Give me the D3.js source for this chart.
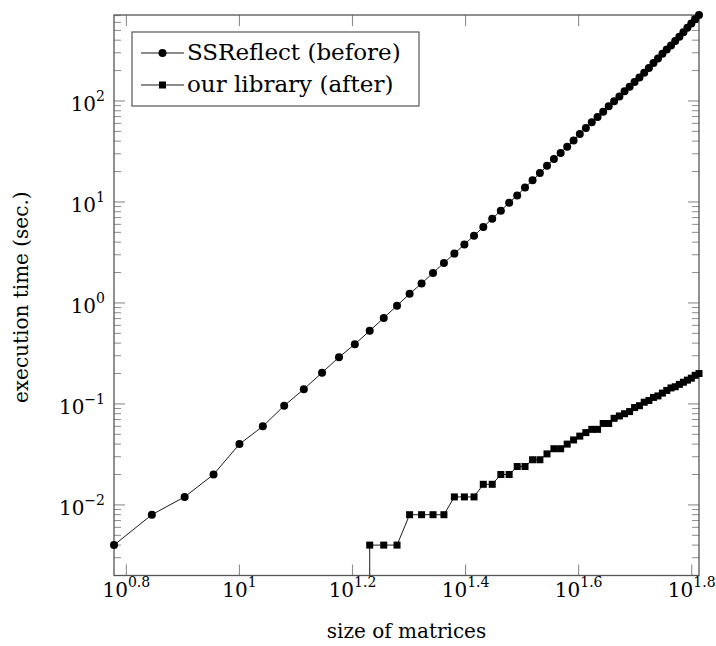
<!DOCTYPE html>
<html><head><meta charset="utf-8">
<script src="https://cdn.jsdelivr.net/npm/d3@7/dist/d3.min.js"></script>
<style>
html,body{margin:0;padding:0;background:#fff;}
svg{display:block;}
text{font-family:"DejaVu Serif","Liberation Serif",serif;fill:#000;}
</style></head>
<body>
<svg id="chart" width="716" height="646"></svg>
<script>
// ---- data ----
const ssrX = [6,7,8,9,10,11,12,13,14,15,16,17,18,19,20,21,22,23,24,25,26,27,28,29,30,31,32,33,34,35,36,37,38,39,40,41,42,43,44,45,46,47,48,49,50,51,52,53,54,55,56,57,58,59,60,61,62,63,64,65];
const ssrY = [0.004,0.008,0.012,0.020,0.040,0.060,0.096,0.14,0.204,0.29,0.39,0.53,0.71,0.94,1.23,1.56,1.98,2.49,3.08,3.80,4.64,5.65,6.82,8.2,9.84,11.6,13.9,16.4,19.3,22.8,26.7,30.6,35.3,40.5,47.1,54.0,61.4,69.5,78.4,88.4,99.1,111,124.5,138.6,154,171,190.6,212,238,264,294,324,355,392,432,478,530,585,645,710];
const libX = [17,18,19,20,21,22,23,24,25,26,27,28,29,30,31,32,33,34,35,36,37,38,39,40,41,42,43,44,45,46,47,48,49,50,51,52,53,54,55,56,57,58,59,60,61,62,63,64,65];
const libY = [0.004,0.004,0.004,0.008,0.008,0.008,0.008,0.012,0.012,0.012,0.016,0.016,0.020,0.020,0.024,0.024,0.028,0.028,0.032,0.036,0.036,0.040,0.044,0.048,0.052,0.056,0.056,0.064,0.064,0.072,0.076,0.080,0.084,0.092,0.096,0.104,0.108,0.116,0.120,0.128,0.136,0.144,0.148,0.156,0.164,0.172,0.180,0.192,0.200];
const seriesNames = ["SSReflect (before)", "our library (after)"];
const xTickExps = [0.8, 1, 1.2, 1.4, 1.6, 1.8];
const yTickExps = [-2, -1, 0, 1, 2];
const xTitle = "size of matrices";
const yTitle = "execution time (sec.)";

// ---- layout ----
const L = 114, R = 699, T = 15, B = 575.5;
const svg = d3.select("#chart");
const x = d3.scaleLog().domain([6, 65]).range([L, R]);
const y = d3.scaleLog().domain([0.002, 710]).range([B, T]);

const tickCol = "#8c8c8c", frameCol = "#555";
const g = svg.append("g");

// minor y ticks
const minor = [];
for (let e = -3; e <= 2; e++) for (let k = 2; k <= 9; k++) {
  const v = k * Math.pow(10, e);
  if (v >= y.domain()[0] && v <= y.domain()[1]) minor.push(v);
}
g.selectAll("line.minL").data(minor).join("line")
  .attr("x1", L).attr("x2", L + 7).attr("y1", d => y(d)).attr("y2", d => y(d))
  .attr("stroke", tickCol).attr("stroke-width", 1);
g.selectAll("line.minR").data(minor).join("line")
  .attr("x1", R).attr("x2", R - 7).attr("y1", d => y(d)).attr("y2", d => y(d))
  .attr("stroke", tickCol).attr("stroke-width", 1);
// major y ticks
const yMaj = yTickExps.map(e => Math.pow(10, e));
g.selectAll("line.majL").data(yMaj).join("line")
  .attr("x1", L).attr("x2", L + 11).attr("y1", d => y(d)).attr("y2", d => y(d))
  .attr("stroke", tickCol).attr("stroke-width", 1.1);
g.selectAll("line.majR").data(yMaj).join("line")
  .attr("x1", R).attr("x2", R - 11).attr("y1", d => y(d)).attr("y2", d => y(d))
  .attr("stroke", tickCol).attr("stroke-width", 1.1);
// major x ticks
const xMaj = xTickExps.map(e => Math.pow(10, e));
g.selectAll("line.majB").data(xMaj).join("line")
  .attr("x1", d => x(d)).attr("x2", d => x(d)).attr("y1", B).attr("y2", B - 11)
  .attr("stroke", tickCol).attr("stroke-width", 1.1);
g.selectAll("line.majT").data(xMaj).join("line")
  .attr("x1", d => x(d)).attr("x2", d => x(d)).attr("y1", T).attr("y2", T + 11)
  .attr("stroke", tickCol).attr("stroke-width", 1.1);

// frame
g.append("rect").attr("x", L).attr("y", T).attr("width", R - L).attr("height", B - T)
  .attr("fill", "none").attr("stroke", frameCol).attr("stroke-width", 1.3);

// tick labels
function powLabel(sel, exp) {
  sel.append("tspan").text("10");
  sel.append("tspan").attr("dy", -10).attr("font-size", 14).text(String(exp));
}
xTickExps.forEach(e => {
  const t = g.append("text").attr("x", x(Math.pow(10, e))).attr("y", 597)
    .attr("text-anchor", "middle").attr("font-size", 20);
  powLabel(t, e);
});
yTickExps.forEach(e => {
  const t = g.append("text").attr("x", 105).attr("y", y(Math.pow(10, e)) + 10)
    .attr("text-anchor", "end").attr("font-size", 20);
  powLabel(t, e < 0 ? "\u2212" + Math.abs(e) : e);
});

// axis titles
g.append("text").attr("x", (L + R) / 2).attr("y", 638).attr("text-anchor", "middle")
  .attr("font-size", 20).text(xTitle);
g.append("text").attr("transform", "translate(28," + ((T + B) / 2 + 2) + ") rotate(-90)")
  .attr("text-anchor", "middle").attr("font-size", 20).text(yTitle);

// clip
svg.append("clipPath").attr("id", "clip").append("rect")
  .attr("x", L).attr("y", T).attr("width", R - L).attr("height", B - T);

const line = d3.line().x(d => x(d[0])).y(d => y(d[1]));
const ssr = ssrX.map((v, i) => [v, ssrY[i]]);
const lib = libX.map((v, i) => [v, libY[i]]);
const libPath = [[libX[0], y.domain()[0]]].concat(lib);

g.append("path").attr("d", line(ssr)).attr("fill", "none").attr("stroke", "#000").attr("stroke-width", 0.9);
g.append("path").attr("d", line(libPath)).attr("fill", "none").attr("stroke", "#000").attr("stroke-width", 0.9)
  .attr("clip-path", "url(#clip)");

const rad = 4;
g.selectAll("circle.ssr").data(ssr).join("circle")
  .attr("cx", d => x(d[0])).attr("cy", d => y(d[1])).attr("r", rad).attr("fill", "#000");
const sq = 7;
g.selectAll("rect.lib").data(lib).join("rect")
  .attr("x", d => x(d[0]) - sq / 2).attr("y", d => y(d[1]) - sq / 2)
  .attr("width", sq).attr("height", sq).attr("fill", "#000");

// legend
const lg = g.append("g");
lg.append("rect").attr("x", 132).attr("y", 32).attr("width", 287).attr("height", 74)
  .attr("fill", "#fff").attr("stroke", frameCol).attr("stroke-width", 1.2);
seriesNames.forEach((name, i) => {
  const cy = 53 + i * 32;
  lg.append("line").attr("x1", 141).attr("x2", 184).attr("y1", cy).attr("y2", cy)
    .attr("stroke", "#000").attr("stroke-width", 0.9);
  if (i === 0) lg.append("circle").attr("cx", 162.5).attr("cy", cy).attr("r", rad).attr("fill", "#000");
  else lg.append("rect").attr("x", 162.5 - sq / 2).attr("y", cy - sq / 2).attr("width", sq).attr("height", sq).attr("fill", "#000");
  lg.append("text").attr("x", 187).attr("y", cy + 7).attr("font-size", 23).text(name);
});
</script>
</body></html>
